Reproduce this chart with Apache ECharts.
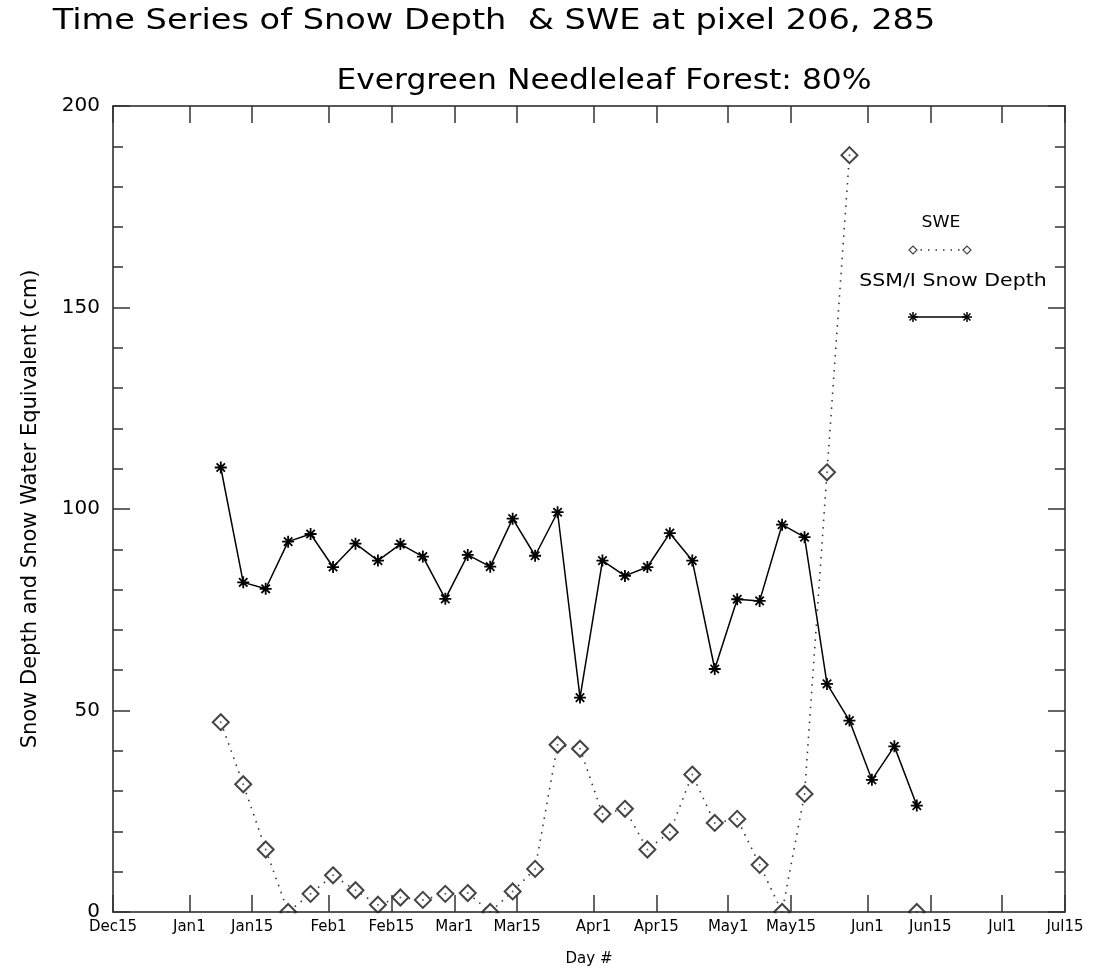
<!DOCTYPE html>
<html>
<head>
<meta charset="utf-8">
<script src="https://cdn.jsdelivr.net/npm/echarts@6/dist/echarts.min.js"></script>
<style>
  html, body { margin: 0; padding: 0; background: #fff; }
  #chart { width: 1099px; height: 972px; }
</style>
</head>
<body>
<div id="chart"></div>
<script>
// Day of year (Jan 1 = 1, Dec 15 of the previous year = -16) for each date tick
const tickDays = [-16, 1, 15, 32, 46, 60, 74, 91, 105, 121, 135, 152, 166, 182, 196];
const tickLabels = ['Dec15', 'Jan1', 'Jan15', 'Feb1', 'Feb15', 'Mar1', 'Mar15', 'Apr1',
                    'Apr15', 'May1', 'May15', 'Jun1', 'Jun15', 'Jul1', 'Jul15'];

// Pentad sample days (day of year)
const days = [8, 13, 18, 23, 28, 33, 38, 43, 48, 53, 58, 63, 68, 73, 78, 83,
              88, 93, 98, 103, 108, 113, 118, 123, 128, 133, 138, 143, 148, 153, 158, 163];

// SSM/I snow depth (cm)
const snowDepth = [110.3, 81.8, 80.2, 91.9, 93.8, 85.6, 91.4, 87.2, 91.3, 88.2, 77.7, 88.6,
                   85.7, 97.6, 88.4, 99.2, 53.2, 87.2, 83.4, 85.6, 94.0, 87.2, 60.3, 77.6,
                   77.2, 96.1, 93.0, 56.6, 47.5, 32.8, 41.1, 26.4];

// Snow water equivalent (cm); null = no value
const swe = [47.1, 31.7, 15.5, 0, 4.5, 9.1, 5.4, 1.8, 3.6, 3.0, 4.5, 4.7,
             0, 5.1, 10.7, 41.5, 40.5, 24.3, 25.6, 15.5, 19.8, 34.1, 22.1, 23.1,
             11.7, 0, 29.3, 109.1, 187.8, null, null, 0];

const FONT = 'DejaVu Sans';
const INK = '#000';
const ASTERISK = 'path://M0,5L10,5M5,0L5,10M1.5,1.5L8.5,8.5M8.5,1.5L1.5,8.5';

const labelOf = {};
tickDays.forEach((d, i) => { labelOf[d] = tickLabels[i]; });

const depthPts = days.map((d, i) => [d, snowDepth[i]]);
const swePts = days.map((d, i) => [d, swe[i]]);
const sweDots = swePts.filter(p => p[1] !== null);

const chart = echarts.init(document.getElementById('chart'), null, { renderer: 'canvas' });

function xAxisCfg(pos, showLabels) {
  return {
    type: 'value', position: pos, min: -16, max: 196, z: 60,
    splitLine: { show: false },
    axisLine: { show: true, onZero: false, lineStyle: { color: '#222', width: 1.5 } },
    axisTick: { show: true, inside: true, length: 17, customValues: tickDays,
                lineStyle: { color: '#333', width: 1.5 } },
    axisLabel: { show: showLabels, customValues: tickDays, margin: 8,
                 formatter: v => labelOf[v] || '', color: INK,
                 fontFamily: FONT, fontSize: 15 },
    name: showLabels ? 'Day #' : '',
    nameLocation: 'middle', nameGap: 40,
    nameTextStyle: { fontFamily: FONT, fontSize: 15, color: INK }
  };
}

function yAxisCfg(pos, showLabels) {
  return {
    type: 'value', position: pos, min: 0, max: 200, interval: 50, z: 60,
    splitLine: { show: false },
    axisLine: { show: true, onZero: false, lineStyle: { color: '#222', width: 1.5 } },
    axisTick: { show: true, inside: true, length: 17, lineStyle: { color: '#333', width: 1.5 } },
    minorTick: { show: true, splitNumber: 5, length: 10, lineStyle: { color: '#333', width: 1.5 } },
    axisLabel: { show: showLabels, margin: 13, color: INK, fontFamily: FONT, fontSize: 20 },
    name: showLabels ? 'Snow Depth and Snow Water Equivalent (cm)' : '',
    nameLocation: 'middle', nameGap: 72,
    nameTextStyle: { fontFamily: FONT, fontSize: 21, color: INK }
  };
}

// asterisk legend glyph built from four short strokes
function asteriskGlyph(cx, cy, r) {
  const d = r * 0.7;
  const segs = [[-r, 0, r, 0], [0, -r, 0, r], [-d, -d, d, d], [d, -d, -d, d]];
  return {
    type: 'group', x: cx, y: cy, z: 61,
    children: segs.map(s => ({
      type: 'line', shape: { x1: s[0], y1: s[1], x2: s[2], y2: s[3] },
      style: { stroke: INK, lineWidth: 1.5 }
    }))
  };
}

function diamondGlyph(cx, cy, r) {
  return {
    type: 'polygon', z: 61,
    shape: { points: [[cx - r, cy], [cx, cy - r], [cx + r, cy], [cx, cy + r]] },
    style: { fill: '#fff', stroke: '#444', lineWidth: 1.2 }
  };
}

function label(text, x, y, size, sx) {
  return {
    type: 'text', x: x, y: y, z: 60, scaleX: sx || 1,
    style: { text: text, font: size + 'px "DejaVu Sans"', fill: INK,
             align: 'center', verticalAlign: 'middle' }
  };
}

const legendX1 = 913, legendX2 = 967;

const option = {
  backgroundColor: '#fff',
  animation: false,
  grid: { left: 113, right: 34, top: 106, bottom: 60, containLabel: false },
  xAxis: [xAxisCfg('bottom', true), xAxisCfg('top', false)],
  yAxis: [yAxisCfg('left', true), yAxisCfg('right', false)],
  series: [
    {
      name: 'SSM/I Snow Depth', type: 'line', data: depthPts,
      symbol: ASTERISK, symbolSize: 12, showSymbol: true,
      lineStyle: { color: INK, width: 1.5 },
      itemStyle: { color: INK, borderColor: INK, borderWidth: 1.8 },
      z: 3
    },
    {
      name: 'SWE', type: 'line', data: swePts, connectNulls: false,
      symbol: 'emptyDiamond', symbolSize: 16, showSymbol: true,
      lineStyle: { color: '#333', width: 1.6, type: [1.5, 6] },
      itemStyle: { color: '#444', borderWidth: 1.4 },
      z: 4
    },
    {
      name: 'SWE centre', type: 'scatter', data: sweDots,
      symbol: 'circle', symbolSize: 2,
      itemStyle: { color: '#333' }, silent: true, z: 5
    }
  ],
  graphic: [
    // keeps the lower half of zero-value markers hidden below the axis
    { type: 'rect', z: 50, silent: true,
      shape: { x: 100, y: 913.2, width: 985, height: 9 },
      style: { fill: '#fff' } },
    label('Time Series of Snow Depth  & SWE at pixel 206, 285', 494, 22, 28, 1.2),
    label('Evergreen Needleleaf Forest: 80%', 604, 82, 28, 1.12),
    // legend
    label('SWE', 941, 223, 15, 1.15),
    { type: 'line', z: 60, shape: { x1: legendX1, y1: 250, x2: legendX2, y2: 250 },
      style: { stroke: '#333', lineWidth: 1.4, lineDash: [1.5, 6] } },
    diamondGlyph(legendX1, 250, 4),
    diamondGlyph(legendX2, 250, 4),
    label('SSM/I Snow Depth', 953, 281, 18, 1.14),
    { type: 'line', z: 60, shape: { x1: legendX1, y1: 317, x2: legendX2, y2: 317 },
      style: { stroke: INK, lineWidth: 1.5 } },
    asteriskGlyph(legendX1, 317, 5),
    asteriskGlyph(legendX2, 317, 5)
  ]
};

chart.setOption(option);
</script>
</body>
</html>
